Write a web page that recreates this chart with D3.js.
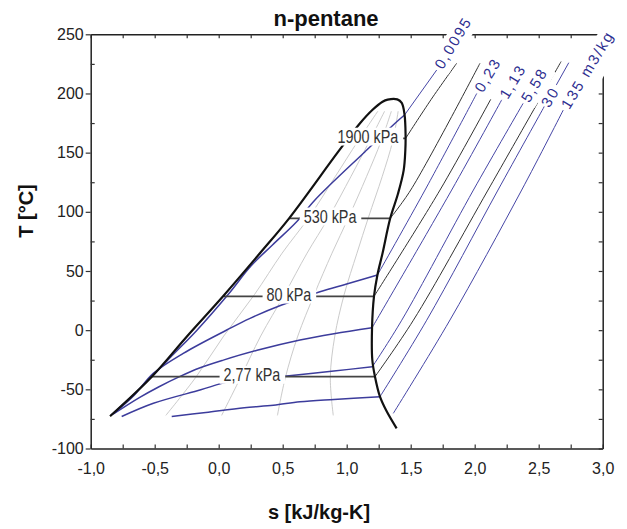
<!DOCTYPE html>
<html>
<head>
<meta charset="utf-8">
<script src="https://cdn.jsdelivr.net/npm/d3@7"></script>
<style>
  html, body { margin: 0; padding: 0; background: #fff; }
  svg { display: block; font-family: "Liberation Sans", Arial, sans-serif; }
</style>
</head>
<body>
<svg id="chart" width="627" height="529"></svg>
<script>
// ---- axis ticks ----
const sMajor = [-1.0, -0.5, 0.0, 0.5, 1.0, 1.5, 2.0, 2.5, 3.0];
const sMajorLabels = ["-1,0", "-0,5", "0,0", "0,5", "1,0", "1,5", "2,0", "2,5", "3,0"];
const sMinor = [-0.75, -0.25, 0.25, 0.75, 1.25, 1.75, 2.25, 2.75];
const tMajor = [-100, -50, 0, 50, 100, 150, 200, 250];
const tMajorLabels = ["-100", "-50", "0", "50", "100", "150", "200", "250"];
const tMinor = [-75, -25, 25, 75, 125, 175, 225];

// ---- saturation dome [s kJ/kg-K, T °C], liquid side up to the critical point and down the vapour side ----
const dome = [
  [-0.849, -72.7], [-0.523, -39.3], [-0.25, -5.5], [0.036, 28.9], [0.33, 66.0],
  [0.55, 94.5], [0.934, 150.8], [1.104, 174.8], [1.20, 186.0], [1.28, 193.0],
  [1.32, 194.8], [1.395, 195.0], [1.43, 192.0], [1.452, 182.0], [1.46, 165.0],
  [1.458, 152.0], [1.445, 135.0], [1.40, 115.0], [1.34, 94.5], [1.28, 65.0],
  [1.24, 46.6], [1.213, 28.3], [1.198, 2.0], [1.20, -25.0], [1.221, -39.3],
  [1.26, -56.2], [1.307, -67.5], [1.39, -83.0]
];

// ---- constant-quality lines (x = 0.2, 0.4, 0.6, 0.8): entropy at each temperature level ----
const qualityT = [-72, -40, -5, 30, 65, 95, 130, 160, 185];
const quality02 = [-0.413, -0.18, 0.039, 0.279, 0.495, 0.703, 0.912, 1.089, 1.243];
const quality04 = [0.023, 0.171, 0.328, 0.513, 0.69, 0.858, 1.034, 1.179, 1.296];
const quality06 = [0.459, 0.521, 0.618, 0.746, 0.885, 1.014, 1.156, 1.27, 1.349];
const quality08 = [0.895, 0.872, 0.907, 0.98, 1.08, 1.169, 1.278, 1.36, 1.402];

// ---- isochores inside the dome ----
const v0095Wet = [[-0.842, -72], [-0.69, -57], [-0.515, -38.5], [-0.35, -20], [-0.17, 0], [0.08, 31],
                  [0.25, 54], [0.42, 72], [0.609, 91.6], [0.752, 110], [1.143, 150.8], [1.391, 176.1], [1.452, 181.8]];
const v023Wet = [[-0.815, -70], [-0.66, -55], [-0.511, -36.5], [-0.277, -19.6], [0.0625, 0.1], [0.245, 10],
                 [0.492, 21.2], [0.791, 32.5], [1.0, 39], [1.24, 46.6]];
const v113Wet = [[-0.825, -71], [-0.62, -57], [-0.47, -48], [-0.31, -39.5], [-0.15, -32], [0.036, -25.3],
                 [0.3, -17], [0.635, -8.3], [0.9, -3], [1.198, 2]];
const v558Wet = [[-0.758, -73], [-0.51, -61.8], [-0.14, -50.4], [0.075, -43.7], [0.3, -41.5], [0.532, -38.7],
                 [0.9, -34.5], [1.20, -31]];
const v30Wet = [[-0.367, -73], [-0.1, -69.5], [0.2, -65.5], [0.427, -63.5], [0.635, -60.5], [0.9, -58.5], [1.26, -56.2]];

// ---- isochores in the superheated vapour (each ends where its label starts) ----
const v0095Vap = [[1.452, 181.8], [1.703, 219.8]];
const v023Vap = [[1.24, 46.6], [1.612, 118.4], [2.016, 200]];
const v113Vap = [[1.198, 2], [1.82, 118.4], [2.211, 194.6]];
const v558Vap = [[1.20, -31], [1.43, 8.4], [1.99, 118.4], [2.378, 191.6]];
const v30Vap = [[1.26, -56.2], [1.625, 8.4], [2.182, 118.4], [2.536, 187.5]];
const v135Vap = [[1.364, -70.3], [1.807, 8.6], [2.367, 118.4], [2.692, 186]];
const v30Tail = [[2.536, 187.5], [2.735, 226]];
const isochoreNames = ["0,0095", "0,23", "1,13", "5,58", "30", "135 m3/kg"];

// ---- isobars: saturation temperature, liquid/vapour entropy, superheated branch ----
const isobarNames = ["1900 kPa", "530 kPa", "80 kPa", "2,77 kPa"];
const isobarTsat = [162, 94.5, 28.5, -39.3];
const isobarSliq = [1.0, 0.55, 0.04, -0.523];
const isobarSvap = [1.46, 1.34, 1.213, 1.221];
const isobarLabelS = [1.166, 0.87, 0.549, 0.26];
const p1900Vap = [[1.46, 162], [1.66, 195], [1.859, 225.5]];
const p530Vap = [[1.34, 94.5], [1.50, 118.4], [2.041, 225.5]];
const p80Vap = [[1.213, 28.5], [1.729, 118.4], [2.125, 195]];
const p277Vap = [[1.221, -39.3], [1.521, 8.4], [2.104, 118.4], [2.675, 227]];

// ---- scales ----
const svg = d3.select("#chart");
const x = d3.scaleLinear().domain([-1, 3]).range([90.7, 602.7]);
const y = d3.scaleLinear().domain([-100, 250]).range([448.5, 34.3]);
const straight = d3.line().x(d => x(d[0])).y(d => y(d[1]));
const smooth = d3.line().x(d => x(d[0])).y(d => y(d[1])).curve(d3.curveCatmullRom.alpha(0.5));

const plot = svg.append("g");

// quality lines
[quality02, quality04, quality06, quality08].forEach(q => {
  plot.append("path")
    .datum(q.map((s, i) => [s, qualityT[i]]))
    .attr("d", smooth)
    .attr("fill", "none").attr("stroke", "#cbcbcb").attr("stroke-width", 1);
});

// isochores in the wet region
[v0095Wet, v023Wet, v113Wet, v558Wet, v30Wet].forEach(v => {
  plot.append("path").datum(v).attr("d", smooth)
    .attr("fill", "none").attr("stroke", "#3c3c9c").attr("stroke-width", 1.5);
});

// isochores in the vapour region
const vapIsochores = [v0095Vap, v023Vap, v113Vap, v558Vap, v30Vap, v135Vap];
vapIsochores.concat([v30Tail]).forEach(v => {
  plot.append("path").datum(v).attr("d", smooth)
    .attr("fill", "none").attr("stroke", "#4646a6").attr("stroke-width", 1);
});

// isobars: horizontal in the dome, rising in the vapour
isobarTsat.forEach((t, i) => {
  plot.append("path").datum([[isobarSliq[i], t], [isobarSvap[i], t]]).attr("d", straight)
    .attr("fill", "none").attr("stroke", "#444").attr("stroke-width", 1.8);
});
[p1900Vap, p530Vap, p80Vap, p277Vap].forEach(p => {
  plot.append("path").datum(p).attr("d", smooth)
    .attr("fill", "none").attr("stroke", "#333").attr("stroke-width", 1);
});

// saturation dome
plot.append("path").datum(dome).attr("d", smooth)
  .attr("fill", "none").attr("stroke", "#111").attr("stroke-width", 2.2)
  .attr("stroke-linejoin", "round");

// ---- axes ----
function styleAxis(g) {
  g.attr("font-size", 16).attr("font-family", "'Liberation Sans', Arial, sans-serif");
  g.select(".domain").attr("stroke", "#222").attr("stroke-width", 1.5);
  g.selectAll(".tick line").attr("stroke", "#333").attr("stroke-width", 1.2);
  g.selectAll(".tick text").attr("fill", "#222");
}
const yBottom = y(-100), yTop = y(250), xLeft = x(-1), xRight = x(3);

svg.append("g").attr("transform", `translate(0,${yBottom})`)
  .call(d3.axisBottom(x).tickValues(sMajor).tickSizeInner(-4).tickSizeOuter(0).tickPadding(14)
    .tickFormat((d, i) => sMajorLabels[i]))
  .call(styleAxis);
svg.append("g").attr("transform", `translate(0,${yBottom})`)
  .call(d3.axisBottom(x).tickValues(sMinor).tickSizeInner(-4).tickSizeOuter(0).tickFormat(""))
  .call(styleAxis).call(g => g.select(".domain").remove());
svg.append("g").attr("transform", `translate(0,${yTop})`)
  .call(d3.axisTop(x).tickValues(sMajor.concat(sMinor)).tickSizeInner(-4).tickSizeOuter(0).tickFormat(""))
  .call(styleAxis);
svg.append("g").attr("transform", `translate(${xLeft},0)`)
  .call(d3.axisLeft(y).tickValues(tMajor).tickSizeInner(5).tickSizeOuter(0).tickPadding(2)
    .tickFormat((d, i) => tMajorLabels[i]))
  .call(styleAxis);
svg.append("g").attr("transform", `translate(${xLeft},0)`)
  .call(d3.axisLeft(y).tickValues(tMinor).tickSizeInner(-4).tickSizeOuter(0).tickFormat(""))
  .call(styleAxis).call(g => g.select(".domain").remove());
svg.append("g").attr("transform", `translate(${xRight},0)`)
  .call(d3.axisRight(y).tickValues(tMajor.concat(tMinor)).tickSizeInner(-4).tickSizeOuter(0).tickFormat(""))
  .call(styleAxis);

// ---- isobar labels (condensed, on a white patch) ----
isobarNames.forEach((name, i) => {
  const g = svg.append("g")
    .attr("transform", `translate(${x(isobarLabelS[i])},${y(isobarTsat[i]) - 1.5}) scale(0.8,1)`);
  const r = g.append("rect").attr("fill", "#fff");
  const t = g.append("text").attr("text-anchor", "middle").attr("dy", "0.35em")
    .attr("font-size", 18).attr("fill", "#333").text(name);
  const b = t.node().getBBox();
  r.attr("x", b.x - 5).attr("y", b.y + 1).attr("width", b.width + 10).attr("height", b.height - 2);
});

// ---- isochore labels, following the end of each vapour line ----
const labelAngle = -59;
vapIsochores.forEach((v, i) => {
  const end = v[v.length - 1];
  const last = i === vapIsochores.length - 1;
  const g = svg.append("g")
    .attr("transform", `translate(${x(end[0])},${y(end[1])}) rotate(${labelAngle})`);
  const r = g.append("rect").attr("fill", "#fff");
  const t = g.append("text").attr("x", 3).attr("dy", "0.35em")
    .attr("font-size", 15).attr("letter-spacing", 2).attr("fill", "#2e2e90").text(isochoreNames[i]);
  const b = t.node().getBBox();
  r.attr("x", b.x - 1).attr("y", b.y - 1).attr("width", b.width + 4).attr("height", b.height + (last ? 10 : 5));
});

// ---- titles ----
svg.append("text").attr("x", 326).attr("y", 26).attr("text-anchor", "middle")
  .attr("font-size", 22).attr("font-weight", "bold").attr("fill", "#111").text("n-pentane");
svg.append("text").attr("x", 319).attr("y", 519).attr("text-anchor", "middle")
  .attr("font-size", 20).attr("font-weight", "bold").attr("fill", "#111").text("s [kJ/kg-K]");
svg.append("text").attr("transform", "translate(33,211) rotate(-90)").attr("text-anchor", "middle")
  .attr("font-size", 20).attr("font-weight", "bold").attr("fill", "#111").text("T [°C]");
</script>
</body>
</html>
